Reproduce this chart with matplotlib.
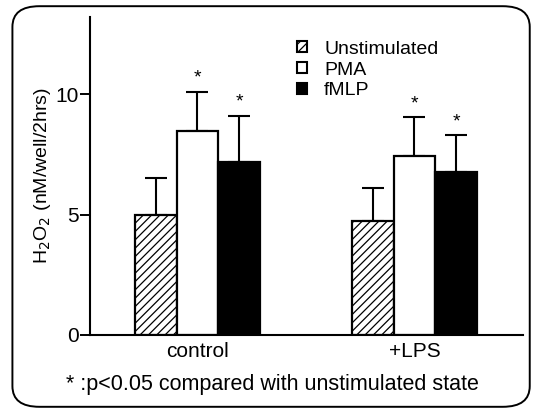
import numpy as np
import matplotlib.pyplot as plt
from matplotlib.patches import FancyBboxPatch, Patch

plt.rcParams['font.family'] = ['Liberation Sans', 'DejaVu Sans']
plt.rcParams['hatch.linewidth'] = 0.9

# data
groups = ["control", "+LPS"]
series = ["Unstimulated", "PMA", "fMLP"]
means = {
    "Unstimulated": [5.0, 4.75],
    "PMA": [8.45, 7.45],
    "fMLP": [7.2, 6.75],
}
errors = {
    "Unstimulated": [1.5, 1.35],
    "PMA": [1.65, 1.6],
    "fMLP": [1.9, 1.55],
}
significant = {"Unstimulated": [False, False], "PMA": [True, True], "fMLP": [True, True]}
yticks = [0, 5, 10]

fig = plt.figure(figsize=(5.4, 4.13), dpi=100)
ax = fig.add_axes([0.1667, 0.1889, 0.8018, 0.77])

styles = {
    "Unstimulated": dict(facecolor="white", hatch="////"),
    "PMA": dict(facecolor="white"),
    "fMLP": dict(facecolor="black"),
}
width = 0.192
x = np.arange(len(groups))
for i, name in enumerate(series):
    pos = x + (i - 1) * width
    ax.bar(pos, means[name], width, edgecolor="black", linewidth=1.6,
           zorder=2, **styles[name])
    ax.errorbar(pos, means[name], yerr=[np.zeros(len(groups)), errors[name]],
                fmt="none", ecolor="black", elinewidth=1.5, capsize=8,
                capthick=1.5, zorder=1)
    for p, m, e, s in zip(pos, means[name], errors[name], significant[name]):
        if s:
            ax.text(p, m + e + 0.2, "*", ha="center", va="bottom", fontsize=14)

ax.set_xlim(-0.495, 1.5)
ax.set_ylim(0, 13.2)
ax.set_yticks(yticks)
ax.set_yticklabels([str(t) for t in yticks], fontsize=15)
ax.tick_params(axis="y", direction="out", length=7, width=1.4, pad=1)
ax.set_xticks(x)
ax.set_xticklabels(groups, fontsize=15)
ax.tick_params(axis="x", length=0, pad=5)
for side in ["top", "right"]:
    ax.spines[side].set_visible(False)
for side in ["left", "bottom"]:
    ax.spines[side].set_linewidth(1.5)
ax.set_ylabel("H$_2$O$_2$ (nM/well/2hrs)", fontsize=14, labelpad=2)

handles = [Patch(edgecolor="black", linewidth=1.5, **styles[n]) for n in series]
ax.legend(handles, series, loc="upper left", bbox_to_anchor=(0.46, 0.95),
          frameon=False, fontsize=14, handlelength=0.5, handleheight=0.5,
          handletextpad=0.9, labelspacing=0.2, borderaxespad=0)

fig.text(0.505, 0.068, "* :p<0.05 compared with unstimulated state",
         ha="center", va="center", fontsize=15.5)

frame = FancyBboxPatch((0.023, 0.015), 0.958, 0.97, transform=fig.transFigure,
                       boxstyle="round,pad=0,rounding_size=0.05",
                       facecolor="none", edgecolor="black", linewidth=1.4)
fig.patches.append(frame)

fig.savefig("out.png", dpi=100)
